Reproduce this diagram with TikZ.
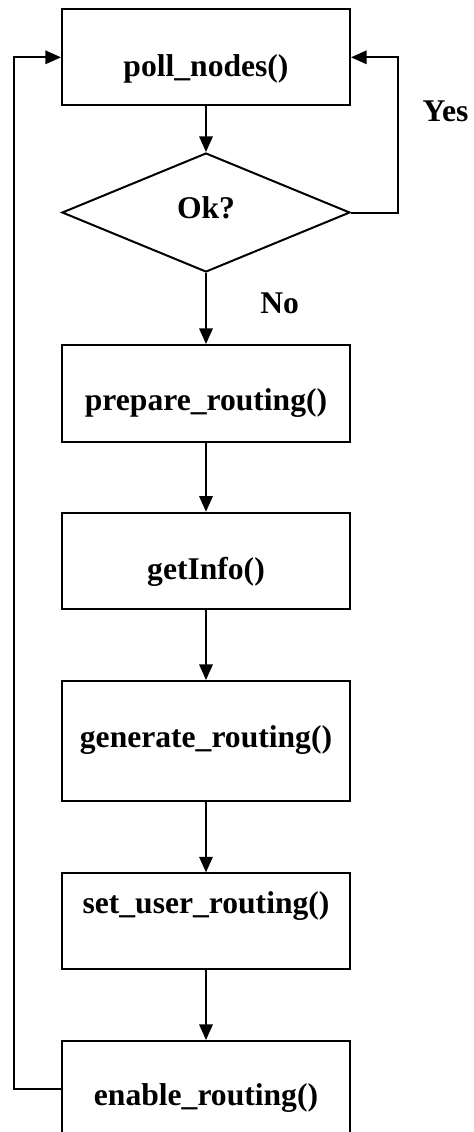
\documentclass[tikz,border=0pt]{standalone}
\usepackage{fontspec}
\setmainfont{Liberation Serif}
\usetikzlibrary{shapes.geometric,arrows.meta}
\begin{document}
\begin{tikzpicture}[x=0.5pt,y=-0.5pt,line width=1pt,
  stepbox/.style={draw,rectangle,inner sep=0pt,minimum width=144pt},
  decision/.style={draw,diamond,inner sep=0pt,minimum width=144pt,minimum height=59.5pt},
  caption/.style={anchor=base,inner sep=0pt,font=\fontsize{15.8pt}{19pt}\selectfont\bfseries},
  flow/.style={-{Triangle[length=7.8pt,width=6.7pt]}}]
\useasboundingbox (0,0) rectangle (473,1132);

% process boxes and the decision
\node[stepbox,minimum height=48pt] (poll) at (206,57.3) {};
\node[decision] (ok) at (206,212.5) {};
\node[stepbox,minimum height=48.3pt] (prep) at (206,393.3) {};
\node[stepbox,minimum height=48.3pt] (info) at (206,561) {};
\node[stepbox,minimum height=60pt] (gen) at (206,741) {};
\node[stepbox,minimum height=47.8pt] (setu) at (206,921.2) {};
\node[stepbox,minimum height=47.5pt] (en) at (206,1088.5) {};

% texts
\node[caption] (tpoll) at (206,76) {poll\_nodes()};
\node[caption] (tok) at (206,218.3) {Ok?};
\node[caption,anchor=base west] (tyes) at (421.7,121.7) {Yes};
\node[caption,anchor=base west] (tno) at (259.3,313.3) {No};
\node[caption] (tprep) at (206,410) {prepare\_routing()};
\node[caption] (tinfo) at (206,579) {getInfo()};
\node[caption] (tgen) at (206,747.3) {generate\_routing()};
\node[caption] (tsetu) at (206,913.3) {set\_user\_routing()};
\node[caption] (ten) at (206,1105) {enable\_routing()};

% corner points of the two loops
\coordinate (yesc) at (397.7,57.3);
\coordinate (loopc) at (14,1088.5);

% connectors
\draw[flow] (poll.south) -- (ok.north);
\draw[flow] (ok.east) -| (yesc) -- (poll.east);
\draw[flow] (ok.south) -- (prep.north);
\draw[flow] (prep.south) -- (info.north);
\draw[flow] (info.south) -- (gen.north);
\draw[flow] (gen.south) -- (setu.north);
\draw[flow] (setu.south) -- (en.north);
\draw[flow] (en.west) -- (loopc) |- (poll.west);
\end{tikzpicture}
\end{document}
